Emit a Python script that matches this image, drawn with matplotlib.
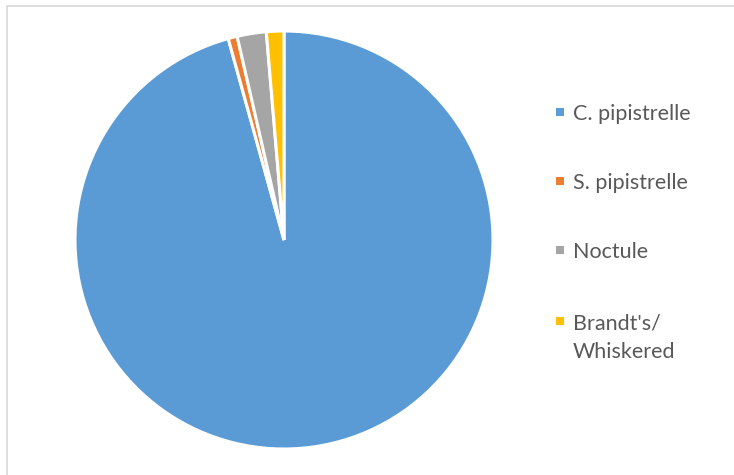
import matplotlib
matplotlib.use("Agg")
import matplotlib.pyplot as plt
from matplotlib.patches import Rectangle

SPECIES = ["C. pipistrelle", "S. pipistrelle", "Noctule", "Brandt's/\nWhiskered"]
SHARES = [95.7, 0.7, 2.25, 1.35]
COLORS = ["#5B9BD5", "#ED7D31", "#A5A5A5", "#FFC000"]

W, H = 734, 475
fig = plt.figure(figsize=(W / 100, H / 100), dpi=100)

# light chart-area frame (Excel style), running off the right/bottom edge
fig.patches.append(Rectangle((7 / W, -0.1), 1.2, 1 - 6 / H + 0.1,
                             transform=fig.transFigure, fill=False,
                             edgecolor="#D9D9D9", lw=1.2))

# pie centred at (284, 240) px, radius 209 px
cx, cy, r = 284, 240, 209
ax = fig.add_axes([(cx - r) / W, (H - cy - r) / H, 2 * r / W, 2 * r / H])
ax.pie(SHARES, colors=COLORS, startangle=90, counterclock=False, radius=1.0,
       wedgeprops=dict(edgecolor="white", linewidth=2.2))
ax.set_xlim(-1, 1)
ax.set_ylim(-1, 1)
ax.set_aspect("equal")
ax.axis("off")

# legend, laid out by hand to follow Excel's spacing
row_y = [112, 181, 250, 321]
for label, color, y in zip(SPECIES, COLORS, row_y):
    fig.patches.append(Rectangle((556 / W, 1 - (y + 4) / H), 8 / W, 8 / H,
                                 transform=fig.transFigure, facecolor=color,
                                 edgecolor="none"))
    for k, line in enumerate(label.split("\n")):
        fig.text(573 / W, 1 - (y + 29 * k) / H, line, fontsize=15.5,
                 family="Lato", color="#595959", va="center_baseline")

fig.savefig("out.png", dpi=100)
